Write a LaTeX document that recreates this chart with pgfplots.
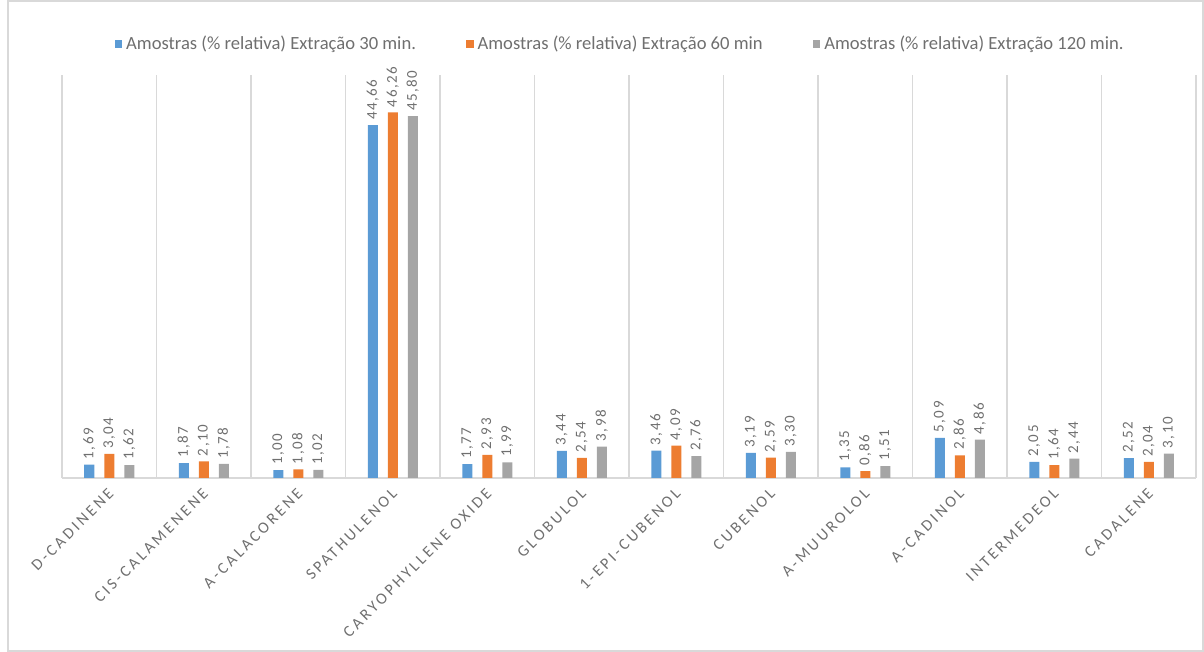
\documentclass[border=0pt]{standalone}
\usepackage{fontspec}
\setmainfont{Carlito}
\usepackage{pgfplots}
\pgfplotsset{compat=1.18}

\definecolor{s30}{HTML}{5B9BD5}
\definecolor{s60}{HTML}{ED7D31}
\definecolor{s120}{HTML}{A5A5A5}
\definecolor{txtgray}{HTML}{6F6F6F}
\definecolor{gridgray}{HTML}{D9D9D9}

% Relative percentage of each compound for the three extraction times
\pgfplotstableread{
x  a30    a60    a120
0  1.69   3.04   1.62
1  1.87   2.10   1.78
2  1.00   1.08   1.02
3  44.66  46.26  45.80
4  1.77   2.93   1.99
5  3.44   2.54   3.98
6  3.46   4.09   2.76
7  3.19   2.59   3.30
8  1.35   0.86   1.51
9  5.09   2.86   4.86
10 2.05   1.64   2.44
11 2.52   2.04   3.10
}\datatable

\begin{document}
\begin{tikzpicture}[x=1pt,y=1pt]
\useasboundingbox (0,0) rectangle (602,326);
\draw[gridgray, line width=0.6pt] (4,0.5) rectangle (601.5,325.5);
\begin{axis}[
  at={(31pt,87pt)}, anchor=south west,
  scale only axis, width=567pt, height=201.5pt,
  xmin=-0.5, xmax=11.5, ymin=0, ymax=51,
  enlargelimits=false,
  ybar=5pt, bar width=5pt,
  axis x line=bottom, axis y line=none,
  x axis line style={-, draw=gridgray, line width=0.8pt},
  xtick={0,...,11},
  xticklabels={D-CADINENE, CIS-CALAMENENE, A-CALACORENE, SPATHULENOL,
    CARYOPHYLLENE OXIDE, GLOBULOL, 1-EPI-CUBENOL, CUBENOL, A-MUUROLOL,
    A-CADINOL, INTERMEDEOL, CADALENE},
  minor xtick={-0.5,0.5,...,11.5},
  xminorgrids,
  minor grid style={gridgray, line width=0.8pt},
  major tick length=0pt, minor tick length=0pt,
  xticklabel style={rotate=45, anchor=north east, xshift=-3pt, yshift=-1.5pt,
    font=\fontsize{8}{10}\selectfont\addfontfeature{LetterSpace=18},
    text=txtgray, inner sep=1pt},
  nodes near coords,
  every node near coord/.append style={rotate=90, anchor=west,
    font=\fontsize{7.5}{9}\selectfont\addfontfeature{LetterSpace=10},
    text=txtgray, inner sep=2.5pt},
  /pgf/number format/.cd, fixed, fixed zerofill, precision=2, use comma,
  assume math mode=true,
  /pgfplots/.cd,
  legend style={at={(0.493,1.077)}, anchor=center, draw=none, fill=none,
    font=\fontsize{9.3}{11}\selectfont, text=txtgray,
    /tikz/every even column/.append style={column sep=23pt}},
  legend columns=3,
  legend image code/.code={\fill[#1] (0pt,-1.9pt) rectangle (3.8pt,1.9pt);},
]
\addplot[draw=none, fill=s30] table[x=x, y=a30] {\datatable};
\addplot[draw=none, fill=s60] table[x=x, y=a60] {\datatable};
\addplot[draw=none, fill=s120] table[x=x, y=a120] {\datatable};
\legend{Amostras (\% relativa) Extração 30 min.,
        Amostras (\% relativa) Extração 60 min,
        Amostras (\% relativa) Extração 120 min.}
\end{axis}
\end{tikzpicture}
\end{document}
